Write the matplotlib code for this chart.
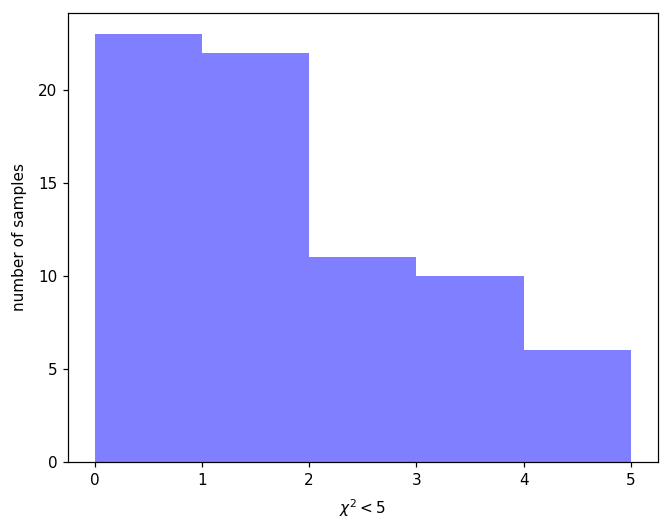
import matplotlib
matplotlib.use("Agg")
import matplotlib.pyplot as plt

# histogram of chi^2 values below 5
bin_edges = [0, 1, 2, 3, 4, 5]
counts = [23, 22, 11, 10, 6]

dpi = 110
fig = plt.figure(figsize=(665 / dpi, 531 / dpi), dpi=dpi)
ax = fig.add_axes([0.102, 0.130, 0.887, 0.8455])

ax.hist(bin_edges[:-1], bins=bin_edges, weights=counts, color='blue', alpha=0.5)

ax.set_xlabel(r'$\chi^2 < 5$', labelpad=6)
ax.set_ylabel('number of samples', labelpad=7)

fig.savefig('out.png', dpi=dpi)
